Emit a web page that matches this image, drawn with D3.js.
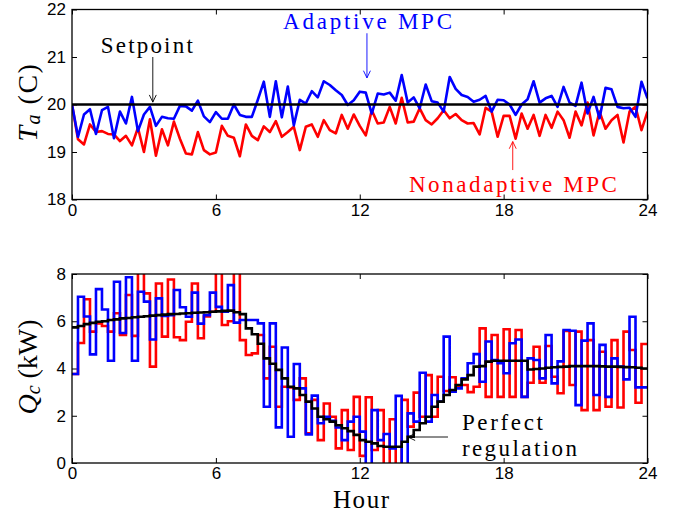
<!DOCTYPE html>
<html>
<head>
<meta charset="UTF-8">
<title>Adaptive vs nonadaptive MPC</title>
<script src="https://cdn.jsdelivr.net/npm/d3@7"></script>
<style>
body { margin: 0; background: #fff; }
.tick text { font-family: "Liberation Sans", Arial, sans-serif; font-size: 17px; fill: #000; }
.tick line, .domain { stroke: #000; }
.serif { font-family: "Liberation Serif", "Times New Roman", serif; }
</style>
</head>
<body>
<script>
// tick labels
var hourTicks = [0, 6, 12, 18, 24];
var tempTicks = [18, 19, 20, 21, 22];
var powerTicks = [0, 2, 4, 6, 8];
var setpoint = 20;

// indoor temperature every 15 min (97 samples, 0..24 h)
var tempAdaptive = [20.0, 19.32, 19.79, 19.90, 19.38, 19.88, 19.95, 19.29, 19.85, 19.6, 20.16, 19.44, 19.79, 19.95, 19.55, 19.74, 19.71, 19.70, 19.97, 19.96, 19.87, 20.08, 19.75, 19.63, 19.84, 19.70, 19.70, 20.0, 19.78, 19.74, 19.74, 20.1, 20.48,
  19.74, 20.49, 19.73, 20.38, 19.56, 20.1, 20.02, 20.28, 20.15, 20.49, 20.41, 20.3, 20.2, 19.99, 20.09, 20.27, 20.25, 19.81, 20.23, 20.21, 20.25, 20.08, 20.62, 20.04, 20.15, 19.92, 20.42, 20.07, 20.04, 19.85, 20.58, 20.33,
  20.2, 20.16, 20.06, 20.1, 20.18, 19.85, 20.1, 20.09, 20.0, 19.78, 20.0, 20.11, 20.49, 20.04, 20.13, 20.18, 19.95, 20.37, 20.04, 19.97, 20.46, 19.81, 20.16, 19.71, 20.35, 20.32, 19.95, 19.92, 19.93, 19.74, 20.48, 20.13];
var tempNonadaptive = [20.0, 19.27, 19.16, 19.58, 19.42, 19.44, 19.38, 19.37, 19.23, 19.34, 19.14, 19.51, 19.0, 19.69, 18.92, 19.48, 19.14, 19.64, 19.28, 18.97, 18.95, 19.42, 19.04, 18.95, 18.99, 19.55, 19.34, 19.3, 18.91, 19.58, 19.34, 19.25, 19.54,
  19.42, 19.65, 19.32, 19.42, 19.53, 19.04, 19.53, 19.58, 19.32, 19.67, 19.46, 19.39, 19.78, 19.49, 19.79, 19.55, 19.35, 19.88, 19.6, 19.62, 19.95, 19.6, 20.14, 19.62, 19.64, 19.92, 19.67, 19.58, 19.71, 19.88, 19.71, 19.8,
  19.67, 19.6, 19.61, 19.37, 19.93, 19.85, 19.32, 19.76, 19.76, 19.28, 19.81, 19.49, 19.78, 19.34, 19.78, 19.51, 19.85, 19.67, 19.3, 19.85, 19.56, 20.04, 19.35, 19.85, 19.49, 19.67, 19.78, 19.2, 19.85, 19.95, 19.46, 19.85];

// cooling power held over each 15 min interval (96 steps)
var powerAdaptive = [3.77, 7.04, 6.2, 4.6, 7.36, 6.5, 4.33, 7.67, 5.5, 7.86, 4.33, 7.25, 6.83, 5.23, 6.97, 6.22, 6.26, 7.32, 6.59, 6.19, 7.21, 5.9, 6.26, 7.21, 6.61, 6.4, 7.53, 5.94, 6.05, 6.05, 6.05, 5.91,
  2.38, 5.91, 1.51, 4.89, 1.11, 4.19, 3.16, 1.21, 2.85, 1.68, 1.96, 1.79, 1.5, 0.97, 1.75, 1.96,
  1.33, -0.3, 2.24, 0.97, 1.23, 0.62, 2.84, -0.3, 2.1, 1.75, 3.82, 1.75, 2.88, 2.6, 5.35, 3.02,
  3.16, 3.58, 4.22, 4.61, 3.44, 5.14, 4.36, 4.22, 3.8, 5.07, 5.23, 2.8, 4.43, 4.36, 3.58, 5.42, 3.37, 4.3, 5.63, 5.6, 2.45, 5.18, 5.91, 2.88, 5.0, 2.8, 4.43, 4.08, 3.54, 6.19, 3.2, 3.2];
var powerNonadaptive = [3.77, 5.08, 6.93, 5.56, 5.91, 5.8, 5.56, 6.34, 5.42, 7.11, 5.38, 8.3, 7.18, 4.08, 7.6, 5.35, 7.77, 5.32, 5.2, 5.98, 7.6, 5.28, 6.2, 6.4, 8.3, 5.84, 6.0, 8.3, 5.2, 4.57, 4.64, 5.42,
  3.58, 4.92, 2.38, 3.23, 3.2, 2.67, 3.58, 1.26, 2.67, 0.97, 2.52, 1.96, 0.62, 2.24, 0.55, 2.8,
  0.3, 2.78, 0.55, 2.24, -0.3, 1.85, -0.3, 2.67, 1.54, 2.98, 1.96, 3.72, 1.96, 3.65, 3.05, 3.63,
  3.26, 3.3, 3.0, 3.23, 5.7, 2.8, 5.42, 2.8, 5.66, 2.8, 5.63, 2.8, 3.4, 4.92, 3.4, 4.95, 3.65, 2.95, 5.59, 3.3, 5.56, 2.24, 5.2, 2.24, 4.71, 2.38, 5.2, 2.35, 5.56, 4.78, 2.55, 5.04];
var powerPerfect = [5.74, 5.8, 5.88, 5.93, 5.98, 6.0, 6.05, 6.08, 6.12, 6.14, 6.17, 6.19, 6.21, 6.24, 6.26, 6.28,
  6.3, 6.31, 6.33, 6.34, 6.36, 6.37, 6.38, 6.4, 6.42, 6.44, 6.45, 6.38, 6.3, 5.7, 5.45, 5.05,
  4.43, 4.2, 3.94, 3.58, 3.23, 3.16, 2.88, 2.6, 2.31, 1.96, 1.85, 1.75, 1.6, 1.47, 1.35, 1.19,
  0.97, 0.9, 0.83, 0.72, 0.69, 0.69, 0.69, 0.9, 1.11, 1.4, 1.68, 1.96, 2.38, 2.6, 2.88, 3.09,
  3.3, 3.54, 3.72, 4.08, 4.1, 4.29, 4.33, 4.33, 4.33, 4.33, 4.33, 4.33, 3.96, 3.98, 4.0, 4.03,
  4.05, 4.07, 4.08, 4.1, 4.1, 4.1, 4.1, 4.1, 4.09, 4.08, 4.08, 4.07, 4.06, 4.05, 4.03, 4.0];

var width = 681, height = 517;
var left = 72, right = 647.5;
var svg = d3.select("body").append("svg")
  .attr("width", width)
  .attr("height", height);

var x = d3.scaleLinear().domain([0, 24]).range([left, right]);

function panel(top, bottom, yDomain, yTicks, id) {
  var y = d3.scaleLinear().domain(yDomain).range([bottom, top]);
  var g = svg.append("g");
  g.append("clipPath").attr("id", id)
    .append("rect").attr("x", left).attr("y", top)
    .attr("width", right - left).attr("height", bottom - top);

  g.append("g").attr("transform", "translate(0," + bottom + ")")
    .call(d3.axisBottom(x).tickValues(hourTicks).tickFormat(d3.format("d"))
      .tickSizeInner(-5).tickSizeOuter(0).tickPadding(4));
  g.append("g").attr("transform", "translate(0," + top + ")")
    .call(d3.axisTop(x).tickValues(hourTicks).tickSizeInner(-5).tickSizeOuter(0).tickFormat(""));
  g.append("g").attr("transform", "translate(" + left + ",0)")
    .call(d3.axisLeft(y).tickValues(yTicks).tickFormat(d3.format("d"))
      .tickSizeInner(-5).tickSizeOuter(0).tickPadding(6));
  g.append("g").attr("transform", "translate(" + right + ",0)")
    .call(d3.axisRight(y).tickValues(yTicks).tickSizeInner(-5).tickSizeOuter(0).tickFormat(""));
  g.selectAll(".domain").remove();
  g.selectAll(".tick line").attr("stroke-width", 1);

  var plot = g.append("g").attr("clip-path", "url(#" + id + ")");
  g.append("rect").attr("x", left).attr("y", top)
    .attr("width", right - left).attr("height", bottom - top)
    .attr("fill", "none").attr("stroke", "#000").attr("stroke-width", 1.3);
  return { y: y, plot: plot, g: g };
}

// arrow with an open head pointing at (x2, y2)
function arrow(g, x1, y1, x2, y2, color) {
  var a = Math.atan2(y2 - y1, x2 - x1), L = 8, w = 0.45;
  g.append("line").attr("x1", x1).attr("y1", y1).attr("x2", x2).attr("y2", y2)
    .attr("stroke", color).attr("stroke-width", 0.9);
  g.append("polyline")
    .attr("points", [
      [x2 - L * Math.cos(a - w), y2 - L * Math.sin(a - w)],
      [x2, y2],
      [x2 - L * Math.cos(a + w), y2 - L * Math.sin(a + w)]
    ].map(function (p) { return p.join(","); }).join(" "))
    .attr("fill", "none").attr("stroke", color).attr("stroke-width", 0.9);
}

function label(g, text, xp, yp, color, len) {
  g.append("text").attr("class", "serif")
    .attr("x", xp).attr("y", yp)
    .attr("font-size", 23).attr("fill", color)
    .attr("textLength", len).attr("lengthAdjust", "spacing")
    .text(text);
}

// ---- temperature panel
var p1 = panel(9.5, 199.5, [18, 22], tempTicks, "clipTop");
var yT = p1.y;
var tLine = d3.line().x(function (d, i) { return x(i * 0.25); }).y(function (d) { return yT(d); });

p1.plot.append("path").datum(tempNonadaptive).attr("d", tLine)
  .attr("fill", "none").attr("stroke", "#ff0000").attr("stroke-width", 2.6).attr("stroke-linejoin", "round");
p1.plot.append("path").datum(tempAdaptive).attr("d", tLine)
  .attr("fill", "none").attr("stroke", "#0000ff").attr("stroke-width", 2.6).attr("stroke-linejoin", "round");
p1.plot.append("line").attr("x1", x(0)).attr("x2", x(24))
  .attr("y1", yT(setpoint)).attr("y2", yT(setpoint))
  .attr("stroke", "#000").attr("stroke-width", 2.6);

label(p1.g, "Setpoint", x(1.2), yT(21.08), "#000", 92);
arrow(p1.g, x(3.37), yT(21.0), x(3.37), yT(20.05), "#000");
label(p1.g, "Adaptive MPC", x(8.8), yT(21.59), "#0000ff", 169);
arrow(p1.g, x(12.3), yT(21.5), x(12.3), yT(20.56), "#0000ff");
label(p1.g, "Nonadaptive MPC", x(14.05), yT(18.16), "#ff0000", 208);
arrow(p1.g, x(18.38), yT(18.62), x(18.38), yT(19.22), "#ff0000");

// ---- cooling power panel
var p2 = panel(274, 463, [0, 8], powerTicks, "clipBottom");
var yQ = p2.y;
function stairs(vals) {
  var pts = vals.map(function (v, i) { return [i * 0.25, v]; });
  pts.push([24, vals[vals.length - 1]]);
  return pts;
}
var qLine = d3.line().curve(d3.curveStepAfter)
  .x(function (d) { return x(d[0]); }).y(function (d) { return yQ(d[1]); });

p2.plot.append("path").datum(stairs(powerNonadaptive)).attr("d", qLine)
  .attr("fill", "none").attr("stroke", "#ff0000").attr("stroke-width", 2.6);
p2.plot.append("path").datum(stairs(powerAdaptive)).attr("d", qLine)
  .attr("fill", "none").attr("stroke", "#0000ff").attr("stroke-width", 2.6);
p2.plot.append("path").datum(stairs(powerPerfect)).attr("d", qLine)
  .attr("fill", "none").attr("stroke", "#000").attr("stroke-width", 2.6);

arrow(p2.g, x(15.68), yQ(1.1), x(14.01), yQ(1.1), "#000");
label(p2.g, "Perfect", x(16.26), yQ(1.4), "#000", 81);
label(p2.g, "regulation", x(16.26), yQ(0.3), "#000", 115);

// ---- axis titles
var tl = svg.append("text").attr("class", "serif")
  .attr("transform", "translate(37,102) rotate(-90)")
  .attr("text-anchor", "middle").attr("font-size", 28).attr("letter-spacing", 1.5);
tl.append("tspan").attr("font-style", "italic").text("T");
tl.append("tspan").attr("font-style", "italic").attr("font-size", 20).attr("dy", 3).text("a");
tl.append("tspan").attr("dy", -3).text(" (C)");

var ql = svg.append("text").attr("class", "serif")
  .attr("transform", "translate(37,367) rotate(-90)")
  .attr("text-anchor", "middle").attr("font-size", 28);
ql.append("tspan").attr("font-style", "italic").text("Q");
ql.append("tspan").attr("font-style", "italic").attr("font-size", 20).attr("dy", 3).text("c");
ql.append("tspan").attr("dy", -3).text(" (kW)");

svg.append("text").attr("class", "serif")
  .attr("x", 361).attr("y", 508).attr("text-anchor", "middle")
  .attr("font-size", 25).attr("textLength", 56).attr("lengthAdjust", "spacing")
  .text("Hour");
</script>
</body>
</html>
